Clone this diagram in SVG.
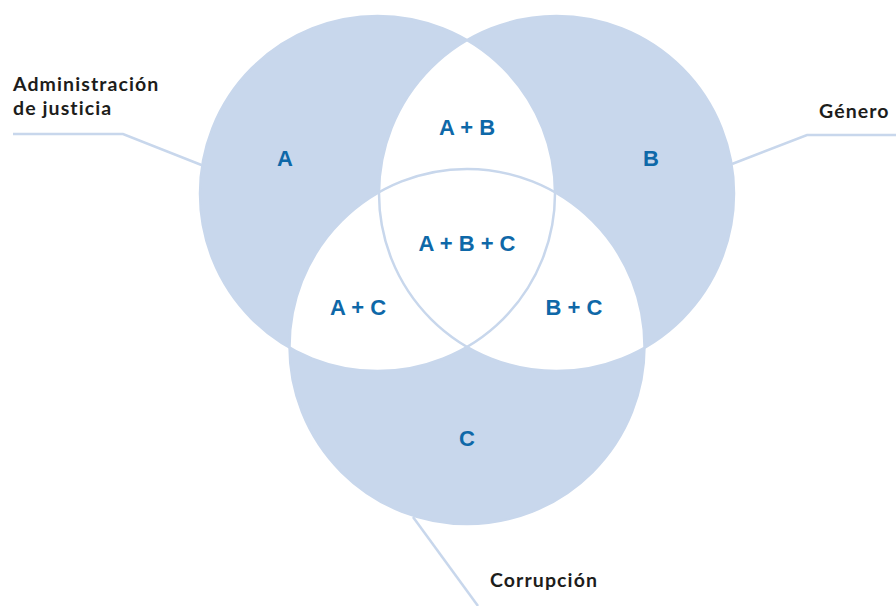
<svg xmlns="http://www.w3.org/2000/svg" width="896" height="606" viewBox="0 0 896 606">
<style>
.fill{fill:#c8d7ec}
.edge{fill:none;stroke:#c8d7ec;stroke-width:2.5}
.white{fill:#ffffff}
.lead{fill:none;stroke:#c8d7ec;stroke-width:2.5}
.lbl{font-family:"Liberation Sans",Arial,sans-serif;font-weight:bold;font-size:22px;fill:#0e68a8;text-anchor:middle}
.cat{font-family:Lato,"Liberation Sans",Arial,sans-serif;font-weight:bold;font-size:19.5px;letter-spacing:1.1px;fill:#1d1d1b}
</style>
<defs>
<clipPath id="clipA"><circle cx="377.5" cy="193.5" r="177.5"/></clipPath>
<clipPath id="clipB"><circle cx="556.5" cy="193.5" r="177.5"/></clipPath>
</defs>
<g id="connectors">
<polyline class="lead" points="13,134 123,134 204,166"/>
<polyline class="lead" points="732,164 807,135 896,135"/>
<polyline class="lead" points="413,517 478,606"/>
</g>
<g id="circles">
<circle class="fill" cx="377.5" cy="193.5" r="177.5"/>
<circle class="fill" cx="556.5" cy="193.5" r="177.5"/>
<circle class="fill" cx="467" cy="346.5" r="177.5"/>
<circle class="white" cx="556.5" cy="193.5" r="177.5" clip-path="url(#clipA)"/>
<circle class="white" cx="467" cy="346.5" r="177.5" clip-path="url(#clipA)"/>
<circle class="white" cx="467" cy="346.5" r="177.5" clip-path="url(#clipB)"/>
<circle class="edge" cx="377.5" cy="193.5" r="177.5"/>
<circle class="edge" cx="556.5" cy="193.5" r="177.5"/>
<circle class="edge" cx="467" cy="346.5" r="177.5"/>
</g>
<g id="node-A"><text class="lbl" x="285" y="166">A</text></g>
<g id="node-B"><text class="lbl" x="651" y="166">B</text></g>
<g id="node-C"><text class="lbl" x="467" y="446">C</text></g>
<g id="node-AB"><text class="lbl" x="467" y="135">A + B</text></g>
<g id="node-AC"><text class="lbl" x="358" y="315">A + C</text></g>
<g id="node-BC"><text class="lbl" x="574" y="315">B + C</text></g>
<g id="node-ABC"><text class="lbl" x="467" y="251">A + B + C</text></g>
<g id="label-admin"><text class="cat" x="13" y="91"><tspan x="13" y="91">Administración</tspan><tspan x="13" y="115">de justicia</tspan></text></g>
<g id="label-genero"><text class="cat" x="819" y="118">Género</text></g>
<g id="label-corrupcion"><text class="cat" x="490" y="587">Corrupción</text></g>
</svg>
